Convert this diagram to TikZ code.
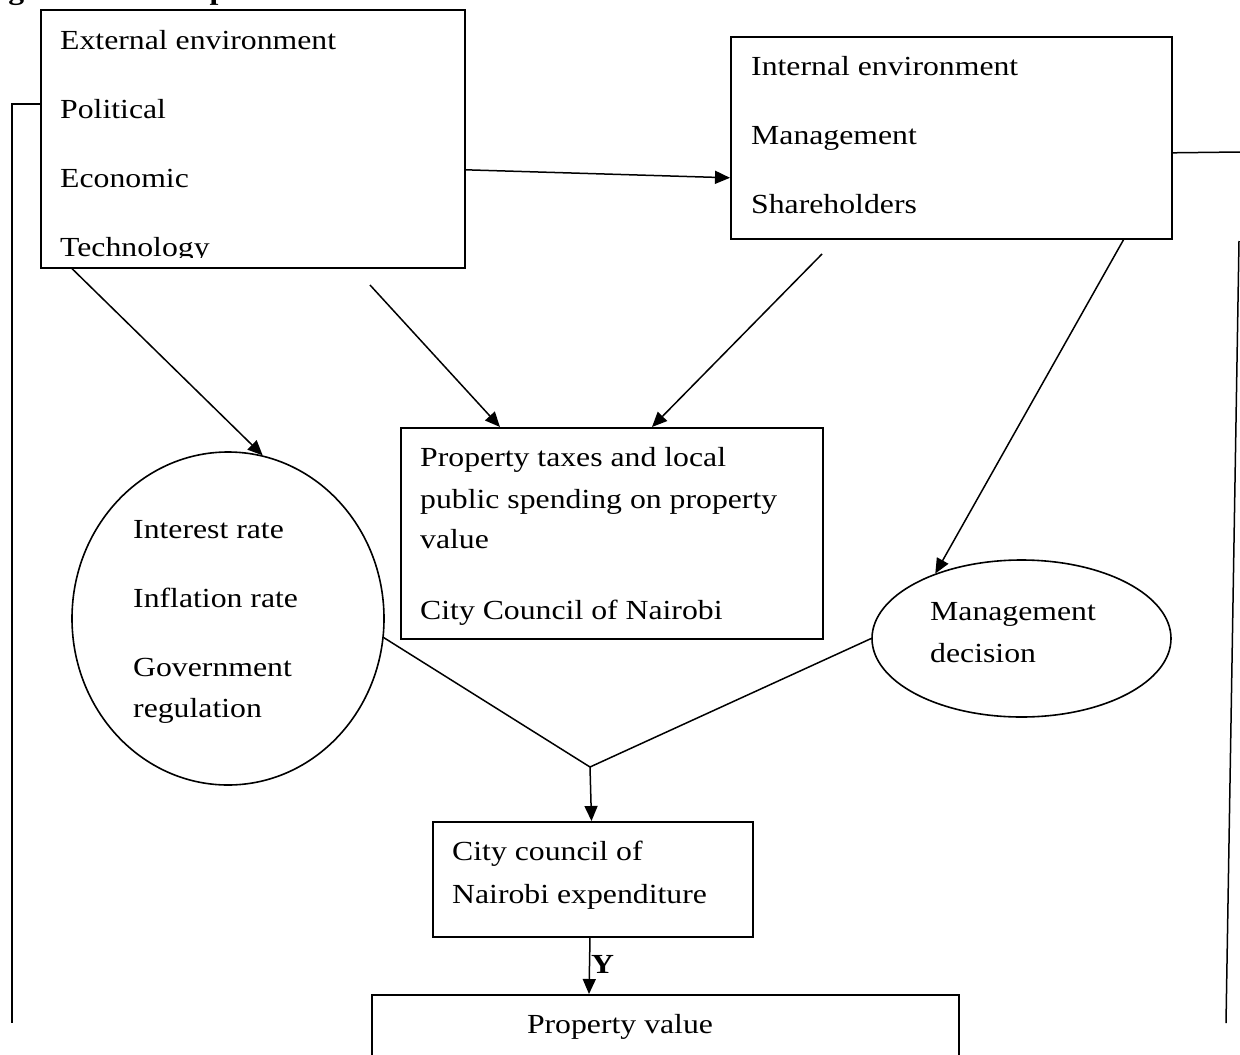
\documentclass[tikz,border=0pt]{standalone}
\usepackage{fontspec}
\setmainfont{Liberation Serif}[FakeStretch=1.15]
\usetikzlibrary{arrows.meta,shapes.geometric}
\begin{document}
\begin{tikzpicture}[x=1pt,y=-1pt,
  box/.style={draw,line width=1.6pt,rectangle,inner sep=0pt,anchor=north west},
  oval/.style={draw,line width=1.6pt,ellipse,inner sep=0pt},
  txt/.style={inner sep=0pt,anchor=base west,font=\fontsize{27.6}{33}\selectfont},
  btxt/.style={txt,font=\fontsize{27.6}{33}\selectfont\bfseries},
  conn/.style={line width=1.5pt},
  arr/.style={conn,-{Triangle[length=15pt,width=13pt]}}]
\useasboundingbox (0,0) rectangle (1240,1055);
\clip (0,0) rectangle (1240,1055);

% title fragment (cut off at the top, as in the reference)
\node[btxt] (title) at (-20,-1) {Figure 2.1 Conceptual Framework};

% boxes and ovals
\node[box,minimum width=424pt,minimum height=258pt] (ext) at (40,9) {};
\node[box,minimum width=441pt,minimum height=202pt] (int) at (730,36) {};
\node[box,minimum width=422pt,minimum height=211pt] (ptax) at (400,427) {};
\node[box,minimum width=320pt,minimum height=115pt] (city) at (432,821) {};
\node[box,minimum width=587pt,minimum height=90pt] (prop) at (371,994) {};
\node[oval,minimum width=312pt,minimum height=333pt] (circ) at (228,618.5) {};
\node[oval,minimum width=299pt,minimum height=157pt] (mgmt) at (1021.5,638.5) {};

% external environment texts (last line clipped by the box)
\begin{scope}
\clip (40,9) rectangle (464,257);
\node[txt] (e1) at (60,49) {External environment};
\node[txt] (e2) at (60,118) {Political};
\node[txt] (e3) at (60,187) {Economic};
\node[txt] (e4) at (60,256) {Technology};
\end{scope}

% internal environment texts
\node[txt] (i1) at (751,75) {Internal environment};
\node[txt] (i2) at (751,144) {Management};
\node[txt] (i3) at (751,213) {Shareholders};

% property taxes texts
\node[txt] (p1) at (420,466) {Property taxes and local};
\node[txt] (p2) at (420,508) {public spending on property};
\node[txt] (p3) at (420,548) {value};
\node[txt] (p4) at (420,619) {City Council of Nairobi};

% circle texts
\node[txt] (c1) at (133,538) {Interest rate};
\node[txt] (c2) at (133,607) {Inflation rate};
\node[txt] (c3) at (133,676) {Government};
\node[txt] (c4) at (133,717) {regulation};

% management decision texts
\node[txt] (m1) at (930,620) {Management};
\node[txt] (m2) at (930,662) {decision};

% city council texts
\node[txt] (k1) at (452,860) {City council of};
\node[txt] (k2) at (452,903) {Nairobi expenditure};

% property value text
\node[txt,anchor=base] (v1) at (620,1033) {Property value};

% connectors
\draw[arr] ([yshift=-31pt]ext.east) -- ([yshift=-40pt]int.west);

\coordinate (lb) at (12,1023);
\draw[conn] ([yshift=35pt]ext.west) -| (lb);

\coordinate (rt) at (1240,152);
\draw[conn] ([yshift=-15pt]int.east) -- (rt);
\coordinate (r1) at (1239,241);
\coordinate (r2) at (1226,1023);
\draw[conn] (r1) -- (r2);

\draw[arr] ([xshift=32pt]ext.south west) -- (circ.78);

\coordinate (a1) at (370,285);
\draw[arr] (a1) -- ([xshift=100pt]ptax.north west);
\coordinate (a2) at (822,254);
\draw[arr] (a2) -- ([xshift=252pt]ptax.north west);

\draw[arr] ([xshift=-49pt]int.south east) -- (mgmt.143);

\coordinate (j) at (590,767);
\draw[conn] (circ.-7) -- (j);
\draw[conn] (mgmt.180) -- (j);
\draw[arr] (j) -- ([xshift=159.5pt]city.north west);
\draw[arr] ([xshift=158pt]city.south west) -- ([xshift=218pt]prop.north west);
\node[btxt] (ylab) at (591,973) {Y};
\end{tikzpicture}
\end{document}
